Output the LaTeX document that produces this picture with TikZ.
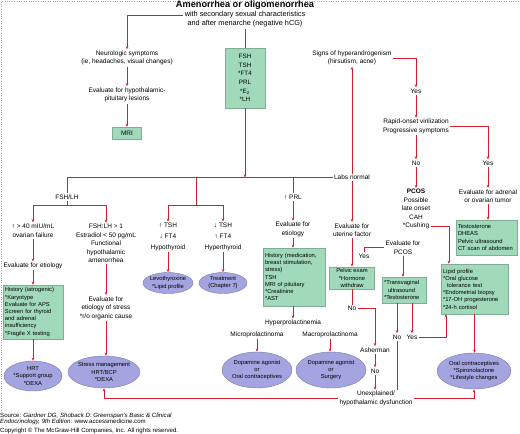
\documentclass[tikz,border=0pt]{standalone}
\usepackage{fontspec}
\setmainfont{Liberation Sans}
\usetikzlibrary{shapes.geometric,arrows.meta}
\definecolor{flowred}{RGB}{208,32,48}
\definecolor{boxgreen}{RGB}{160,218,186}
\definecolor{ovalblue}{RGB}{164,164,224}
\tikzset{
  txt/.style={font=\fontsize{6.5}{8.5}\selectfont, align=center, inner sep=1.2pt},
  greenbox/.style={draw=boxgreen!80!black, fill=boxgreen, line width=0.3pt,
    font=\fontsize{5.8}{7.2}\selectfont, align=left, inner sep=2pt},
  oval/.style={ellipse, draw=ovalblue!75!black, fill=ovalblue, line width=0.4pt,
    font=\fontsize{5.8}{7.2}\selectfont, align=center, inner sep=-0.5pt},
  ln/.style={draw=flowred, line width=0.7pt},
  arr/.style={ln, -{Stealth[length=3.2pt,width=2.6pt]}},
}
\begin{document}
\begin{tikzpicture}[x=1pt,y=-1pt]
\useasboundingbox (0,0) rectangle (520,434);
% frame
\draw[gray!70, dotted, line width=0.4pt] (1,410) -- (1,0.8) -- (520,0.8);

% title
\node[txt, font=\bfseries\fontsize{9.2}{10}\selectfont] (title) at (245,5) {Amenorrhea or oligomenorrhea};
\node[txt, font=\fontsize{7.3}{9}\selectfont] (sub1) at (245,15) {with secondary sexual characteristics};
\node[txt, font=\fontsize{7.3}{9}\selectfont] (sub2) at (245,24) {and after menarche (negative hCG)};

% pituitary branch
\node[txt] (neuro) at (127,58) {Neurologic symptoms\\(ie, headaches, visual changes)};
\node[txt] (lesion) at (127,95) {Evaluate for hypothalamic-\\pituitary lesions};
\node[greenbox, align=center, minimum width=29pt, minimum height=12pt, font=\fontsize{6.5}{8}\selectfont] (mri) at (127,133) {MRI};

% labs
\node[greenbox, align=center, minimum width=40pt, minimum height=60pt, font=\fontsize{6.3}{8.6}\selectfont] (labs) at (245,78) {FSH\\TSH\\{}*FT4\\PRL\\{}*E\textsubscript{2}\\{}*LH};
\coordinate (hub) at (245,177.5);
\node[txt] (labsok) at (352,177.5) {Labs normal};

% FSH/LH
\node[txt] (fshlh) at (67,197) {FSH/LH};
\coordinate (fork) at (67,205);
\node[txt] (ovfail) at (33,230.5) {↑ > 40 mIU/mL\\ovarian failure};
\node[txt] (etiol) at (33,266) {Evaluate for etiology};
\node[greenbox, text width=56pt, minimum height=54pt] (iatro) at (33,312) {History (iatrogenic)\\{}*Karyotype\\Evaluate for APS\\Screen for thyroid\\and adrenal\\insufficiency\\{}*Fragile X testing};
\node[oval, minimum width=58pt, minimum height=30pt] (hrt) at (33,376) {HRT\\{}*Support group\\{}*DEXA};
\node[txt] (funct) at (106,243.5) {FSH:LH > 1\\Estradiol < 50 pg/mL\\Functional\\hypothalamic\\amenorrhea};
\node[txt] (stress) at (106,308) {Evaluate for\\etiology of stress\\{}*r/o organic cause};
\node[oval, minimum width=64pt, minimum height=32pt] (stressmg) at (104,372) {Stress management\\HRT/BCP\\{}*DEXA};

% thyroid
\coordinate (thyfork) at (196,205);
\node[txt, font=\fontsize{6.5}{11}\selectfont] (hypot) at (168,237) {↑ TSH\\↓ FT4\\Hypothyroid};
\node[txt, font=\fontsize{6.5}{11}\selectfont] (hypert) at (223,237) {↓ TSH\\↑ FT4\\Hyperthyroid};
\node[oval, minimum width=50pt, minimum height=21pt] (levo) at (168,283) {Levothyroxine\\{}*Lipid profile};
\node[oval, minimum width=48pt, minimum height=21pt] (treat) at (223,283) {Treatment\\(Chapter 7)};

% prolactin
\node[txt] (prl) at (293,197) {↑ PRL};
\node[txt] (etiol2) at (293,229.5) {Evaluate for\\etiology};
\node[greenbox, text width=58pt, minimum height=58pt] (prlbox) at (294,277) {History (medication,\\breast stimulation,\\stress)\\TSH\\MRI of pituitary\\{}*Creatinine\\{}*AST};
\node[txt] (hprl) at (293,323) {Hyperprolactinemia};
\node[txt] (micro) at (257,335) {Microprolactinoma};
\node[txt] (macro) at (330,335) {Macroprolactinoma};
\node[oval, minimum width=70pt, minimum height=36pt] (dopa1) at (257,370) {Dopamine agonist\\or\\Oral contraceptives};
\node[oval, minimum width=70pt, minimum height=36pt] (dopa2) at (331,370) {Dopamine agonist\\or\\Surgery};

% uterine factor
\node[txt] (andro) at (352,58) {Signs of hyperandrogenism\\(hirsutism, acne)};
\node[txt] (uterine) at (352,230) {Evaluate for\\uterine factor};
\node[greenbox, align=center, minimum width=45pt, minimum height=22pt] (pelvic) at (352,278) {Pelvic exam\\{}*Hormone\\withdraw};
\node[txt] (yes1) at (364,256) {Yes};
\node[txt] (no1) at (352,308.5) {No};
\node[txt] (asher) at (375,350) {Asherman};
\node[txt] (no2) at (375,371) {No};
\node[txt] (unexpl) at (376,398.5) {Unexplained/\\hypothalamic dysfunction};

% PCOS
\node[txt] (evpcos) at (403,247.5) {Evaluate for\\PCOS};
\node[greenbox, text width=40pt, minimum height=26pt] (pcosbox) at (404,290) {{}*Transvaginal\\\hspace*{4pt}ultrasound\\{}*Testosterone};
\node[txt] (no3) at (397,337) {No};
\node[txt] (yes2) at (412,337) {Yes};

% virilization
\node[txt] (yes3) at (416,91) {Yes};
\node[txt] (rapid) at (416,126.5) {Rapid-onset virilization\\Progressive symptoms};
\node[txt] (no4) at (416,163) {No};
\node[txt] (yes4) at (488,163) {Yes};
\node[txt] (pcos) at (416,204.5) {\textbf{PCOS}\\Possible\\late onset\\CAH};
\node[txt] (cush) at (416,226) {*Cushing};
\node[txt] (evadr) at (488,196) {Evaluate for adrenal\\or ovarian tumor};
\node[greenbox, text width=57pt, minimum height=35pt] (testo) at (486.5,237.5) {Testosterone\\DHEAS\\Pelvic ultrasound\\CT scan of abdomen};
\node[greenbox, text width=63pt, minimum height=50pt] (lipid) at (474.5,289) {Lipid profile\\{}*Oral glucose\\\hspace*{4pt}tolerance test\\{}*Endometrial biopsy\\{}*17-OH progesterone\\{}*24-h cortisol};
\node[oval, minimum width=74pt, minimum height=36pt] (ocp) at (474,371) {Oral contraceptives\\{}*Spironolactone\\{}*Lifestyle changes};

% source
\node[anchor=west, inner sep=0, font=\fontsize{6.1}{6.4}\selectfont, align=left] (src) at (0,419) {Source: \textit{Gardner DG, Shoback D: Greenspan's Basic \& Clinical}\\\textit{Endocrinology, 9th Edition}: www.accessmedicine.com};
\node[anchor=west, inner sep=0, font=\fontsize{6.1}{6.4}\selectfont] (copy) at (0,431) {Copyright © The McGraw-Hill Companies, Inc. All rights reserved.};

% connectors
\draw[arr] (sub1.west) -| (neuro.north);
\draw[arr] (neuro.south) -- (lesion.north);
\draw[arr] (lesion.south) -- (mri.north);
\draw[ln] (sub2.south) -- (labs.north);
\draw[arr] (labs.south) -- (hub);
\draw[ln] (fshlh.north) |- (labsok.west);

\draw[ln] (fshlh.south) -- (fork);
\draw[arr] (fork) -| (ovfail.north);
\draw[arr] (fork) -| (funct.north);
\draw[arr] (ovfail.south) -- (etiol.north);
\draw[arr] (etiol.south) -- (iatro.north);
\draw[arr] (iatro.south) -- (hrt.north);
\draw[arr] (funct.south) -- (stress.north);
\draw[arr] (stress.south) -- (stress.south |- stressmg.north);

\draw[ln] (hub -| thyfork) -- (thyfork);
\draw[arr] (thyfork) -| (hypot.north);
\draw[arr] (thyfork) -| (hypert.north);
\draw[arr] (hypot.south) -- (levo.north);
\draw[arr] (hypert.south) -- (treat.north);

\draw[ln] (hub -| prl.north) -- (prl.north);
\draw[arr] (prl.south) -- (etiol2.north);
\draw[arr] (etiol2.south) -- (etiol2.south |- prlbox.north);
\draw[arr] (prlbox.south -| hprl) -- (hprl.north);
\draw[arr] (micro.south) -- (dopa1.north);
\draw[arr] (macro.south) -- (macro.south |- dopa2.north);

\draw[arr] (labsok.north) -- (andro.south);
\draw[arr] (labsok.south) -- (uterine.north);
\draw[arr] (uterine.south) -- (pelvic.north);
\draw[ln] (pelvic.south) -- (no1.north);
\draw[arr] (no1.east) -| (asher.north);
\draw[arr] (asher.south) -- (no2.north);
\draw[arr] (no2.south) -- (no2.south |- unexpl.north);
\draw[ln] (yes1.north) |- (evpcos.west);
\draw[arr] (evpcos.south) -- (evpcos.south |- pcosbox.north);
\draw[arr] (no3.north |- pcosbox.south) -- (no3.north);
\draw[arr] (yes2.north |- pcosbox.south) -- (yes2.north);
\draw[ln] (no3.south) -- (no3.south |- unexpl.north);
\draw[arr] (yes2.east) -| ([xshift=5pt]lipid.south west);
\draw[arr] (unexpl.west) -| (stressmg.south);
\draw[arr] (unexpl.east) -| (ocp.south);

\draw[arr] (andro.east) -| (yes3.north);
\draw[arr] (yes3.south) -- (rapid.north);
\draw[arr] (rapid.east) -| (yes4.north);
\draw[arr] (rapid.south) -- (no4.north);
\draw[arr] (no4.south) -- (pcos.north);
\draw[arr] (cush.east) -| ([xshift=8pt]lipid.north west);
\draw[arr] (yes4.south) -- (evadr.north);
\draw[arr] (evadr.south) -- (evadr.south |- testo.north);
\draw[arr] (lipid.south) -- (lipid.south |- ocp.north);
\end{tikzpicture}
\end{document}
